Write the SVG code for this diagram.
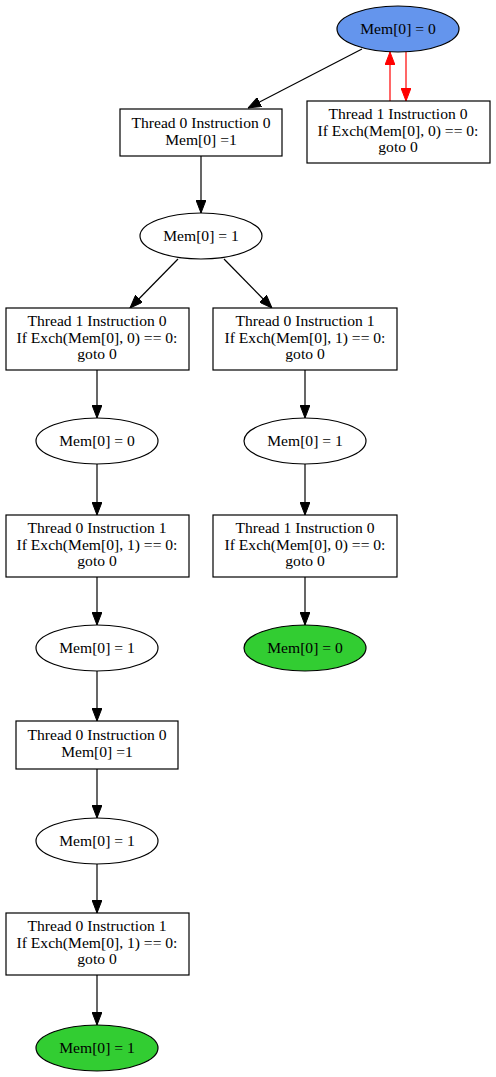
<svg xmlns="http://www.w3.org/2000/svg" width="496" height="1077" viewBox="0 0 496 1077">
<style>
text{font-family:"Liberation Serif","Times New Roman",serif;font-size:15.6px;text-anchor:middle;fill:#000}
.n{fill:#fff;stroke:#000;stroke-width:1.2}
.blue{fill:#6495ed;stroke:#000;stroke-width:1.2}
.green{fill:#32cd32;stroke:#000;stroke-width:1.2}
.e{stroke:#000;stroke-width:1.2;fill:none}
.r{stroke:#f00;stroke-width:1.2;fill:none}
</style>
<defs>
<marker id="ab" markerWidth="13" markerHeight="10" refX="13" refY="5" orient="auto" markerUnits="userSpaceOnUse"><path d="M0,0 L13,5 L0,10 Z" fill="#000" stroke="#000"/></marker>
<marker id="ar" markerWidth="13" markerHeight="10" refX="13" refY="5" orient="auto" markerUnits="userSpaceOnUse"><path d="M0,0 L13,5 L0,10 Z" fill="#f00" stroke="#f00"/></marker>
</defs>
<g id="edges">
<line class="e" x1="362" y1="49" x2="248" y2="108" marker-end="url(#ab)"/>
<line class="r" x1="390" y1="101" x2="390" y2="52" marker-end="url(#ar)"/>
<line class="r" x1="406" y1="52" x2="406" y2="101" marker-end="url(#ar)"/>
<line class="e" x1="201" y1="156" x2="201" y2="213" marker-end="url(#ab)"/>
<line class="e" x1="178" y1="259" x2="130" y2="308" marker-end="url(#ab)"/>
<line class="e" x1="224" y1="259" x2="272" y2="308" marker-end="url(#ab)"/>
<line class="e" x1="97" y1="370" x2="97" y2="418" marker-end="url(#ab)"/>
<line class="e" x1="305" y1="370" x2="305" y2="418" marker-end="url(#ab)"/>
<line class="e" x1="97" y1="464" x2="97" y2="515" marker-end="url(#ab)"/>
<line class="e" x1="305" y1="464" x2="305" y2="515" marker-end="url(#ab)"/>
<line class="e" x1="97" y1="577" x2="97" y2="625" marker-end="url(#ab)"/>
<line class="e" x1="305" y1="577" x2="305" y2="625" marker-end="url(#ab)"/>
<line class="e" x1="97" y1="671" x2="97" y2="721" marker-end="url(#ab)"/>
<line class="e" x1="97" y1="769" x2="97" y2="818" marker-end="url(#ab)"/>
<line class="e" x1="97" y1="864" x2="97" y2="913" marker-end="url(#ab)"/>
<line class="e" x1="97" y1="975" x2="97" y2="1025" marker-end="url(#ab)"/>
</g>
<g id="n0"><ellipse class="blue" cx="398" cy="29" rx="61" ry="23"/><text x="398" y="34">Mem[0] = 0</text></g>
<g id="n1"><rect class="n" x="307" y="101" width="183" height="62"/><text x="398" y="119">Thread 1 Instruction 0</text><text x="398" y="135.5">If Exch(Mem[0], 0) == 0:</text><text x="398" y="152">goto 0</text></g>
<g id="n2"><rect class="n" x="120" y="109" width="162" height="47"/><text x="201" y="128">Thread 0 Instruction 0</text><text x="201" y="144.5">Mem[0] =1</text></g>
<g id="n3"><ellipse class="n" cx="201" cy="236" rx="61" ry="23"/><text x="201" y="241">Mem[0] = 1</text></g>
<g id="n4"><rect class="n" x="6" y="308" width="183" height="62"/><text x="97" y="326">Thread 1 Instruction 0</text><text x="97" y="342.5">If Exch(Mem[0], 0) == 0:</text><text x="97" y="359">goto 0</text></g>
<g id="n5"><rect class="n" x="213" y="308" width="184" height="62"/><text x="305" y="326">Thread 0 Instruction 1</text><text x="305" y="342.5">If Exch(Mem[0], 1) == 0:</text><text x="305" y="359">goto 0</text></g>
<g id="n6"><ellipse class="n" cx="97" cy="441" rx="61" ry="23"/><text x="97" y="446">Mem[0] = 0</text></g>
<g id="n7"><ellipse class="n" cx="305" cy="441" rx="61" ry="23"/><text x="305" y="446">Mem[0] = 1</text></g>
<g id="n8"><rect class="n" x="6" y="515" width="183" height="62"/><text x="97" y="533">Thread 0 Instruction 1</text><text x="97" y="549.5">If Exch(Mem[0], 1) == 0:</text><text x="97" y="566">goto 0</text></g>
<g id="n9"><rect class="n" x="213" y="515" width="184" height="62"/><text x="305" y="533">Thread 1 Instruction 0</text><text x="305" y="549.5">If Exch(Mem[0], 0) == 0:</text><text x="305" y="566">goto 0</text></g>
<g id="n10"><ellipse class="n" cx="97" cy="648" rx="61" ry="23"/><text x="97" y="653">Mem[0] = 1</text></g>
<g id="n11"><ellipse class="green" cx="305" cy="648" rx="61" ry="23"/><text x="305" y="653">Mem[0] = 0</text></g>
<g id="n12"><rect class="n" x="16" y="721" width="162" height="48"/><text x="97" y="740">Thread 0 Instruction 0</text><text x="97" y="756.5">Mem[0] =1</text></g>
<g id="n13"><ellipse class="n" cx="97" cy="841" rx="61" ry="23"/><text x="97" y="846">Mem[0] = 1</text></g>
<g id="n14"><rect class="n" x="6" y="913" width="183" height="62"/><text x="97" y="931">Thread 0 Instruction 1</text><text x="97" y="947.5">If Exch(Mem[0], 1) == 0:</text><text x="97" y="964">goto 0</text></g>
<g id="n15"><ellipse class="green" cx="97" cy="1048" rx="61" ry="23"/><text x="97" y="1053">Mem[0] = 1</text></g>
</svg>
